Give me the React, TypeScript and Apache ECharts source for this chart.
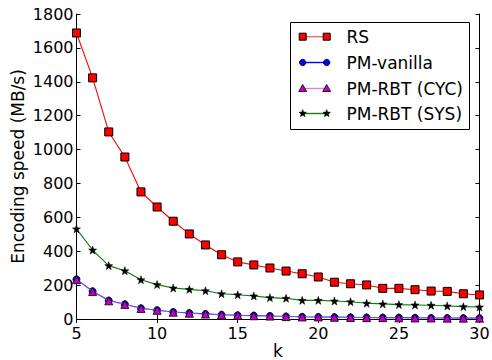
import React, { useEffect, useRef } from "react";
import * as echarts from "echarts";

const kValues = [5, 6, 7, 8, 9, 10, 11, 12, 13, 14, 15, 16, 17, 18, 19, 20, 21, 22, 23, 24, 25, 26, 27, 28, 29, 30];
const rsSpeed = [1688, 1423, 1104, 956, 750, 661, 577, 502, 437, 379, 337, 319, 301, 283, 267, 248, 217, 208, 201, 181, 181, 173, 165, 163, 149, 142];
const pmVanillaSpeed = [234, 164, 109, 87, 63, 52, 41, 35, 30, 25, 22, 20, 18, 15, 13, 12, 11, 10, 9, 8, 8, 7, 6, 6, 5, 5];
const pmCycSpeed = [232, 162, 107, 86, 62, 51, 40, 34, 29, 25, 22, 19, 17, 14, 12, 12, 10, 9, 8, 8, 7, 6, 6, 5, 5, 5];
const pmSysSpeed = [532, 407, 315, 285, 232, 203, 183, 175, 167, 149, 143, 136, 126, 122, 110, 110, 106, 102, 93, 89, 85, 83, 81, 77, 73, 71];
const seriesNames = ["RS", "PM-vanilla", "PM-RBT (CYC)", "PM-RBT (SYS)"];
const xTicks = { min: 5, max: 30, interval: 5 };
const yTicks = { min: 0, max: 1800, interval: 200 };

const FONT = "DejaVu Sans";

function starPoints(cx: number, cy: number, R: number, r: number): number[][] {
  const pts: number[][] = [];
  for (let i = 0; i < 10; i++) {
    const a = -Math.PI / 2 + (i * Math.PI) / 5;
    const rad = i % 2 === 0 ? R : r;
    pts.push([cx + rad * Math.cos(a), cy + rad * Math.sin(a)]);
  }
  return pts;
}
const starSymbol =
  "path://" +
  starPoints(10, 10, 10, 4)
    .map((p, i) => (i === 0 ? "M" : "L") + p[0].toFixed(2) + " " + p[1].toFixed(2))
    .join(" ") +
  " Z";

export default function App() {
  const ref = useRef<HTMLDivElement>(null);
  useEffect(() => {
    if (!ref.current) return;
    const chart = echarts.init(ref.current, null, { renderer: "svg" });
    const toPairs = (vals: number[]) => kValues.map((k, i) => [k, vals[i]]);

    const tickStyle = {
      show: true,
      inside: true,
      length: 4,
      lineStyle: { color: "#000", width: 1 },
    };
    const axisLineStyle = { show: true, lineStyle: { color: "#000", width: 1 } };

    // legend graphic
    const lx = 290.5, ly = 22.5, lw = 179, lh = 107;
    const rowY = [36.7, 62.5, 88.5, 113.5];
    const mx1 = 302.7, mx2 = 326.7, tx = 346.5;
    const legendLineColors = ["#f46a6a", "#0000ff", "#e080e0", "#1a7a1a"];
    const graphics: any[] = [
      {
        type: "rect",
        z: 100,
        shape: { x: lx, y: ly, width: lw, height: lh },
        style: { fill: "#fff", stroke: "#000", lineWidth: 1 },
      },
    ];
    const markerFor = (idx: number, x: number, y: number): any => {
      if (idx === 0)
        return { type: "rect", z: 102, shape: { x: x - 3.5, y: y - 3.5, width: 7, height: 7 }, style: { fill: "#ff0000", stroke: "#000", lineWidth: 1 } };
      if (idx === 1)
        return { type: "circle", z: 102, shape: { cx: x, cy: y, r: 3.2 }, style: { fill: "#0000ff", stroke: "#000", lineWidth: 0.8 } };
      if (idx === 2)
        return { type: "polygon", z: 102, shape: { points: [[x, y - 4], [x + 4, y + 3], [x - 4, y + 3]] }, style: { fill: "#bf00bf", stroke: "#000", lineWidth: 0.8 } };
      return { type: "polygon", z: 102, shape: { points: starPoints(x, y, 4, 1.7) }, style: { fill: "#000", stroke: "#000", lineWidth: 0.5 } };
    };
    seriesNames.forEach((name, i) => {
      const y = rowY[i];
      graphics.push({
        type: "line",
        z: 101,
        shape: { x1: mx1, y1: y, x2: mx2, y2: y },
        style: { stroke: legendLineColors[i], lineWidth: 1.4 },
      });
      graphics.push(markerFor(i, mx1, y));
      graphics.push(markerFor(i, mx2, y));
      graphics.push({
        type: "text",
        z: 102,
        x: tx,
        y: y,
        style: { text: name, fill: "#000", font: `17px "${FONT}"`, textVerticalAlign: "middle", textAlign: "left" },
      });
    });

    chart.setOption({
      animation: false,
      backgroundColor: "#fff",
      textStyle: { fontFamily: FONT },
      grid: {
        left: 76.5,
        top: 14,
        right: 12.5,
        bottom: 41,
        containLabel: false,
        outerBoundsMode: "none",
      },
      xAxis: [
        {
          type: "value",
          min: xTicks.min,
          max: xTicks.max,
          interval: xTicks.interval,
          position: "bottom",
          name: "k",
          nameLocation: "middle",
          nameGap: 23,
          nameMoveOverlap: false,
          nameTextStyle: { fontSize: 17, color: "#000", fontFamily: FONT, verticalAlign: "top" },
          axisLine: axisLineStyle,
          axisTick: tickStyle,
          splitLine: { show: false },
          axisLabel: { fontSize: 16, color: "#000", fontFamily: FONT, margin: 6 },
        },
        {
          type: "value",
          min: xTicks.min,
          max: xTicks.max,
          interval: xTicks.interval,
          position: "top",
          axisLine: axisLineStyle,
          axisTick: tickStyle,
          splitLine: { show: false },
          axisLabel: { show: false },
        },
      ],
      yAxis: [
        {
          type: "value",
          min: yTicks.min,
          max: yTicks.max,
          interval: yTicks.interval,
          position: "left",
          name: "Encoding speed (MB/s)",
          nameLocation: "middle",
          nameGap: 50,
          nameMoveOverlap: false,
          nameTextStyle: { fontSize: 17, color: "#000", fontFamily: FONT },
          axisLine: axisLineStyle,
          axisTick: tickStyle,
          splitLine: { show: false },
          axisLabel: { fontSize: 16, color: "#000", fontFamily: FONT, margin: 3, formatter: (v: number) => String(v) },
        },
        {
          type: "value",
          min: yTicks.min,
          max: yTicks.max,
          interval: yTicks.interval,
          position: "right",
          axisLine: axisLineStyle,
          axisTick: tickStyle,
          splitLine: { show: false },
          axisLabel: { show: false },
        },
      ],
      series: [
        {
          name: seriesNames[0],
          type: "line",
          data: toPairs(rsSpeed),
          symbol: "rect",
          symbolSize: 8,
          showAllSymbol: true,
          lineStyle: { color: "#ff0000", width: 1.1 },
          itemStyle: { color: "#ff0000", borderColor: "#000", borderWidth: 1 },
          z: 2,
        },
        {
          name: seriesNames[1],
          type: "line",
          data: toPairs(pmVanillaSpeed),
          symbol: "circle",
          symbolSize: 7,
          showAllSymbol: true,
          lineStyle: { color: "#0000ff", width: 1.1 },
          itemStyle: { color: "#0000ff", borderColor: "#000", borderWidth: 0.8 },
          z: 3,
        },
        {
          name: seriesNames[2],
          type: "line",
          data: toPairs(pmCycSpeed),
          symbol: "triangle",
          symbolSize: 8,
          showAllSymbol: true,
          lineStyle: { color: "#ee82ee", width: 1.2, opacity: 0.55 },
          itemStyle: { color: "#bf00bf", borderColor: "#000", borderWidth: 0.8 },
          z: 4,
        },
        {
          name: seriesNames[3],
          type: "line",
          data: toPairs(pmSysSpeed),
          symbol: starSymbol,
          symbolSize: 8,
          showAllSymbol: true,
          lineStyle: { color: "#008000", width: 1.1 },
          itemStyle: { color: "#000", borderColor: "#000", borderWidth: 0.5 },
          z: 5,
        },
      ],
      graphic: graphics,
    });
    return () => chart.dispose();
  }, []);
  return <div ref={ref} style={{ width: 492, height: 360, position: "absolute", left: 0, top: 0 }} />;
}
